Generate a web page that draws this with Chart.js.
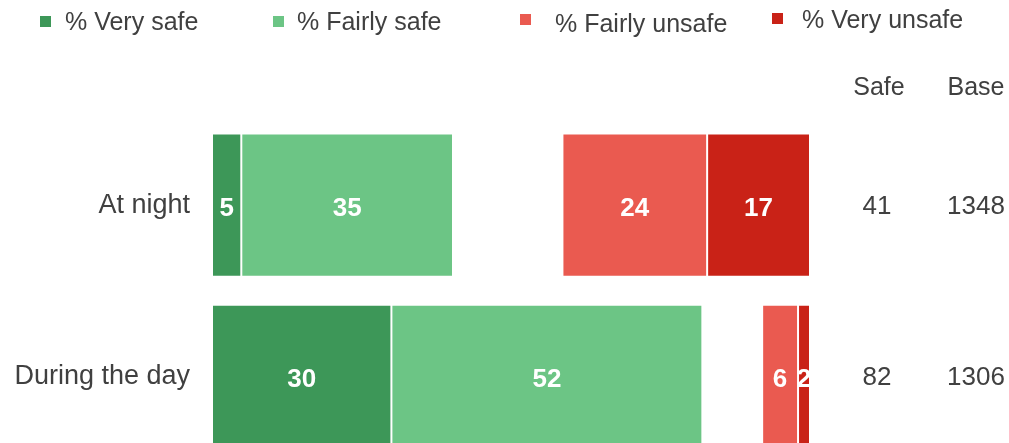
<!DOCTYPE html>
<html>
<head>
<meta charset="utf-8">
<script src="https://cdn.jsdelivr.net/npm/chart.js@4/dist/chart.umd.min.js"></script>
<style>
html,body{margin:0;padding:0;background:#fff;overflow:hidden;}
canvas{display:block;}
</style>
</head>
<body>
<canvas id="c" width="1009" height="462"></canvas>
<script>
const categories = ['At night', 'During the day'];
const verySafe = [4.9, 30];
const fairlySafe = [35.4, 52];
const fairlyUnsafe = [24.2, 6];
const veryUnsafe = [17.2, 2];
const safeTotals = ['41', '82'];
const bases = ['1348', '1306'];
const seriesNames = ['% Very safe', '% Fairly safe', '% Fairly unsafe', '% Very unsafe'];
const seriesColors = ['#3d9758', '#6cc585', '#ea5a50', '#c92217'];

const gap = categories.map((_, i) => 100 - verySafe[i] - fairlySafe[i] - fairlyUnsafe[i] - veryUnsafe[i]);

const FONT = '"Liberation Sans", Arial, sans-serif';
const TXT = '#404040';

function ds(label, data, color) {
  return { label, data, backgroundColor: color, borderColor: 'rgba(255,255,255,0.85)', borderWidth: 1, borderSkipped: false, showLabel: true };
}

const datasets = [
  ds(seriesNames[0], verySafe, seriesColors[0]),
  ds(seriesNames[1], fairlySafe, seriesColors[1]),
  { label: 'gap', data: gap, backgroundColor: 'rgba(0,0,0,0)', borderWidth: 0, showLabel: false },
  ds(seriesNames[2], fairlyUnsafe, seriesColors[2]),
  ds(seriesNames[3], veryUnsafe, seriesColors[3])
];

const overlay = {
  id: 'overlay',
  afterDatasetsDraw(chart) {
    const ctx = chart.ctx;
    chart.data.datasets.forEach((d, di) => {
      if (!d.showLabel) return;
      const meta = chart.getDatasetMeta(di);
      meta.data.forEach((bar, i) => {
        const v = d.data[i];
        const left = Math.min(bar.x, bar.base), right = Math.max(bar.x, bar.base);
        const h = bar.height;
        ctx.save();
        ctx.beginPath();
        ctx.rect(left, bar.y - h / 2, right - left, h);
        ctx.clip();
        ctx.fillStyle = '#ffffff';
        ctx.font = 'bold 26px ' + FONT;
        ctx.textAlign = 'center';
        ctx.textBaseline = 'alphabetic';
        ctx.fillText(String(Math.round(v)), (left + right) / 2, bar.y + 10.5);
        ctx.restore();
      });
    });
    const ys = chart.scales.y;
    ctx.save();
    ctx.fillStyle = TXT;
    ctx.font = '25px ' + FONT;
    ctx.textAlign = 'center';
    ctx.textBaseline = 'alphabetic';
    ctx.fillText('Safe', 879, 95);
    ctx.fillText('Base', 976, 95);
    ctx.font = '26px ' + FONT;
    categories.forEach((c, i) => {
      const y = ys.getPixelForValue(i) + 9;
      ctx.fillText(safeTotals[i], 877, y);
      ctx.fillText(bases[i], 976, y);
    });
    const lx = [40, 273, 520, 772];
    const ly = [16, 16, 14, 13];
    const tx = [65, 297, 555, 802];
    const tb = [30, 30, 32, 28];
    ctx.font = '25px ' + FONT;
    ctx.textAlign = 'left';
    seriesNames.forEach((n, i) => {
      ctx.fillStyle = seriesColors[i];
      ctx.fillRect(lx[i], ly[i], 11, 11);
      ctx.fillStyle = TXT;
      ctx.fillText(n, tx[i], tb[i]);
    });
    ctx.restore();
  }
};

new Chart(document.getElementById('c'), {
  type: 'bar',
  data: { labels: categories, datasets },
  options: {
    indexAxis: 'y',
    responsive: false,
    animation: false,
    layout: { padding: { top: 119.5, right: 199, bottom: 0, left: 0 } },
    plugins: { legend: { display: false }, tooltip: { enabled: false } },
    datasets: { bar: { categoryPercentage: 1, barPercentage: 0.836 } },
    scales: {
      x: { stacked: true, min: 0, max: 100, display: false },
      y: {
        stacked: true,
        grid: { display: false, drawTicks: false },
        border: { display: false },
        ticks: { color: TXT, font: { family: FONT, size: 27 }, padding: 22 },
        afterFit(scale) { scale.width = 212; scale.paddingTop = 0; scale.paddingBottom = 0; }
      }
    }
  },
  plugins: [overlay]
});
</script>
</body>
</html>
